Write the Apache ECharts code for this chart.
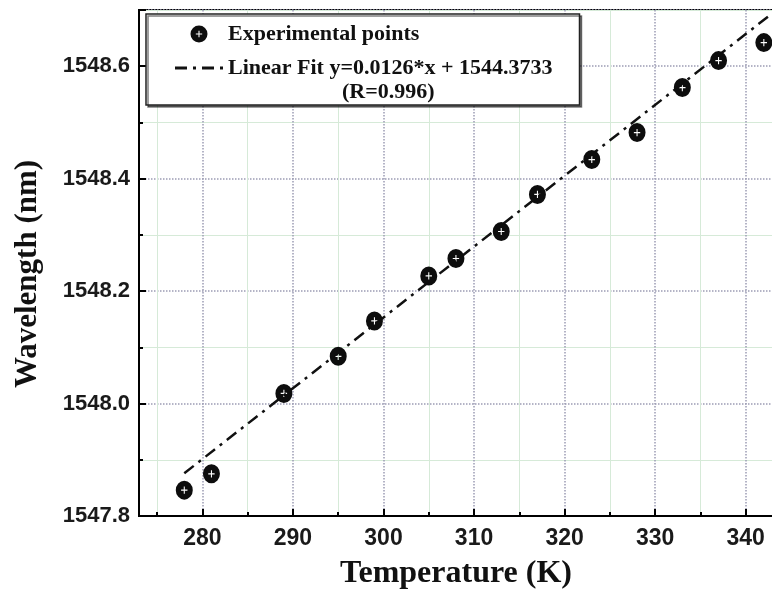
<!DOCTYPE html>
<html>
<head>
<meta charset="utf-8">
<script src="https://cdn.jsdelivr.net/npm/echarts@6/dist/echarts.min.js"></script>
<style>
  html, body { margin: 0; padding: 0; background: #fff; }
  #main { width: 772px; height: 595px; }
</style>
</head>
<body>
<div id="main"></div>
<script>
// measured points (K, nm)
var temps = [278, 281, 289, 295, 299, 305, 308, 313, 317, 323, 328, 333, 337, 342];
var waves = [1547.846, 1547.875, 1548.018, 1548.084, 1548.147, 1548.227, 1548.258,
             1548.306, 1548.372, 1548.434, 1548.482, 1548.562, 1548.610, 1548.642];
// ends of the fitted line as drawn
var fitTemps = [278, 343];
var fitWaves = [1547.876, 1548.695];
var pointsName = 'Experimental points';
var fitName = 'Linear Fit y=0.0126*x + 1544.3733';
var fitNote = '(R=0.996)';

// black dot with a small white cross cut out
var dotPath = 'path://M8,0 A8,8 0 1,1 8,16 A8,8 0 1,1 8,0 Z ' +
  'M7.5,5 L7.5,7.5 L5,7.5 L5,8.5 L7.5,8.5 L7.5,11 L8.5,11 L8.5,8.5 L11,8.5 L11,7.5 L8.5,7.5 L8.5,5 Z';
var dashDotPath = 'path://M0,0 h12 v3 h-12 Z M18,0 h3 v3 h-3 Z M27,0 h12 v3 h-12 Z M45,0 h3 v3 h-3 Z';

var serif = '"Liberation Serif", "Times New Roman", serif';
var sans = '"Liberation Sans", Arial, sans-serif';
var narrow = '"Liberation Sans Narrow", "Arial Narrow", "Liberation Sans", sans-serif';

var pts = temps.map(function (t, i) { return [t, waves[i]]; });
var fit = fitTemps.map(function (t, i) { return [t, fitWaves[i]]; });

var chart = echarts.init(document.getElementById('main'));
var option = {
  backgroundColor: '#fff',
  animation: false,
  grid: {
    left: 139, top: 10, right: -19, bottom: 79,
    outerBoundsMode: 'none',
    show: true, borderColor: '#000', borderWidth: 2
  },
  legend: {
    orient: 'vertical',
    left: 146, top: 14,
    padding: [8, 27, 25, 29],
    itemGap: 10,
    itemWidth: 48, itemHeight: 17,
    backgroundColor: '#fff',
    borderColor: '#222', borderWidth: 1.5,
    shadowColor: 'rgba(0,0,0,0.5)', shadowOffsetX: 2, shadowOffsetY: 2,
    textStyle: { fontFamily: serif, fontWeight: 'bold', fontSize: 22, color: '#111', lineHeight: 24 },
    data: [
      { name: pointsName, icon: dotPath },
      { name: fitName, icon: dashDotPath }
    ]
  },
  graphic: [{
    type: 'text', left: 342, top: 81, z: 100,
    style: { text: fitNote, font: 'bold 22px ' + serif, fill: '#111' }
  }],
  xAxis: {
    type: 'value',
    min: 273, max: 345,
    minInterval: 10, maxInterval: 10, splitNumber: 7,
    name: 'Temperature (K)',
    nameLocation: 'middle', nameGap: 42,
    nameTextStyle: { fontFamily: serif, fontWeight: 'bold', fontSize: 32, color: '#111', padding: [0, 18, 0, 0] },
    axisLine: { lineStyle: { color: '#000', width: 2 } },
    axisTick: { inside: true, length: 7, lineStyle: { color: '#000', width: 2 } },
    minorTick: { show: true, splitNumber: 2, length: 4, lineStyle: { color: '#000', width: 2 } },
    axisLabel: {
      margin: 11, showMinLabel: false, showMaxLabel: false,
      fontFamily: narrow, fontWeight: 'bold', fontSize: 23, color: '#1a1a1a'
    },
    splitLine: { show: true, lineStyle: { color: '#9c9cb4', type: 'dotted', width: 1.5 } },
    minorSplitLine: { show: true, lineStyle: { color: '#d6ead8', width: 1 } }
  },
  yAxis: {
    type: 'value',
    min: 1547.8, max: 1548.7, interval: 0.2,
    name: 'Wavelength (nm)',
    nameLocation: 'middle', nameGap: 96,
    nameTextStyle: { fontFamily: serif, fontWeight: 'bold', fontSize: 31, color: '#111', padding: [0, 22, 0, 0] },
    axisLine: { lineStyle: { color: '#000', width: 2 } },
    axisTick: { inside: true, length: 7, lineStyle: { color: '#000', width: 2 } },
    minorTick: { show: true, splitNumber: 2, length: 4, lineStyle: { color: '#000', width: 2 } },
    axisLabel: {
      margin: 9, showMaxLabel: false,
      fontFamily: sans, fontWeight: 'bold', fontSize: 22, color: '#1a1a1a',
      formatter: function (v) { return v.toFixed(1); }
    },
    splitLine: { show: true, lineStyle: { color: '#9c9cb4', type: 'dotted', width: 1.5 } },
    minorSplitLine: { show: true, lineStyle: { color: '#d6ead8', width: 1 } }
  },
  series: [
    {
      name: fitName,
      type: 'line',
      data: fit,
      showSymbol: false,
      z: 2,
      itemStyle: { color: '#111' },
      lineStyle: { color: '#111', width: 2.5, type: [12, 6, 3, 6] }
    },
    {
      name: pointsName,
      type: 'scatter',
      data: pts,
      symbol: dotPath,
      symbolSize: [17, 19],
      z: 3,
      itemStyle: { color: '#0d0d0d', opacity: 1 }
    }
  ]
};
chart.setOption(option);
</script>
</body>
</html>
